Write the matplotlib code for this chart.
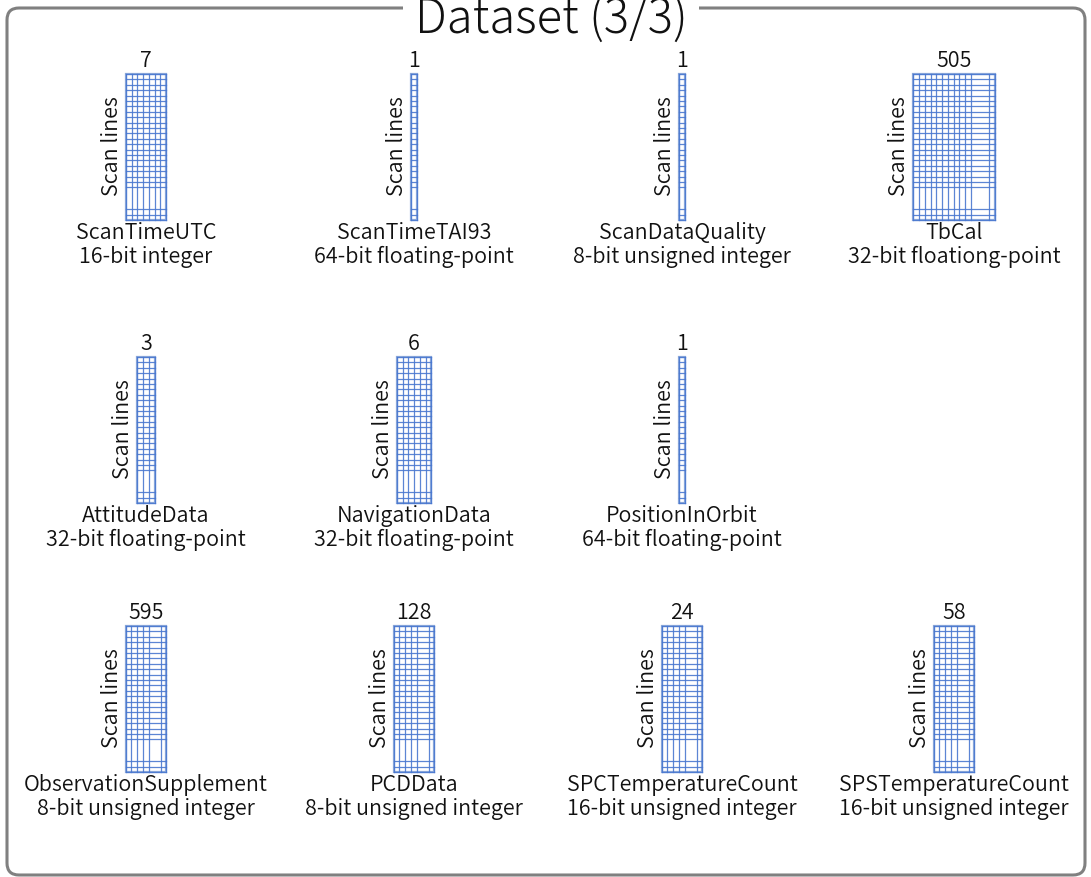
import matplotlib.pyplot as plt
from matplotlib.patches import FancyBboxPatch, Rectangle

plt.rcParams['font.family'] = ['Noto Sans CJK JP', 'DejaVu Sans']
plt.rcParams['font.weight'] = 350

# dataset variables
names = ["ScanTimeUTC", "ScanTimeTAI93", "ScanDataQuality", "TbCal",
         "AttitudeData", "NavigationData", "PositionInOrbit",
         "ObservationSupplement", "PCDData", "SPCTemperatureCount", "SPSTemperatureCount"]
types = ["16-bit integer", "64-bit floating-point", "8-bit unsigned integer", "32-bit floationg-point",
         "32-bit floating-point", "32-bit floating-point", "64-bit floating-point",
         "8-bit unsigned integer", "8-bit unsigned integer", "16-bit unsigned integer",
         "16-bit unsigned integer"]
counts = [7, 1, 1, 505, 3, 6, 1, 595, 128, 24, 58]
shown_cols = [7, 1, 1, 10, 3, 6, 1, 4, 4, 4, 4]   # columns drawn before the "..." gap
slots = [(0, 0), (0, 1), (0, 2), (0, 3),
         (1, 0), (1, 1), (1, 2),
         (2, 0), (2, 1), (2, 2), (2, 3)]

W, H = 1091, 877
col_x = [146, 414, 682, 954]
row_top = [74, 357, 626]
box_h = 146
cw = 5.75          # cell width
rh = 5.4           # row height
n_rows_top = 21
n_rows_bot = 2
grid_col = "#4a78d0"
fs = 15.5

fig = plt.figure(figsize=(W / 100, H / 100), dpi=100)
ax = fig.add_axes([0, 0, 1, 1])
ax.set_xlim(0, W)
ax.set_ylim(H, 0)
ax.axis("off")

# outer frame
frame = FancyBboxPatch((7, 8), 1078, 867, boxstyle="round,pad=0,rounding_size=12",
                       fc="none", ec="#808080", lw=2.2)
ax.add_patch(frame)
ax.text(551, 33, "Dataset (3/3)", ha="center", va="baseline", fontsize=34,
        fontweight="light", color="#111111", bbox=dict(fc="white", ec="none", pad=8))


def draw_grid(x0, y0, ncol, gap):
    # column edges
    xs = [x0 + i * cw for i in range(ncol + 1)]
    if gap:
        wide = 18 if ncol > 5 else 12
        xs.append(xs[-1] + wide)
        xs.append(xs[-1] + cw)
    # row edges
    ys = [y0 + i * rh for i in range(n_rows_top + 1)]
    y1 = y0 + box_h
    ys += [y1 - i * rh for i in range(n_rows_bot, -1, -1)]
    for x in xs:
        ax.plot([x, x], [y0, y1], color=grid_col, lw=0.9, alpha=0.9)
    for y in ys:
        ax.plot([xs[0], xs[-1]], [y, y], color=grid_col, lw=0.9, alpha=0.9)
    ax.add_patch(Rectangle((xs[0], y0), xs[-1] - xs[0], box_h, fc="none",
                           ec="#8eaadb", lw=1.6))
    return xs[0], xs[-1]


for name, typ, cnt, nc, (r, c) in zip(names, types, counts, shown_cols, slots):
    gap = cnt > nc
    width = nc * cw + ((18 if nc > 5 else 12) + cw if gap else 0)
    cx = col_x[c]
    x0 = cx - width / 2
    y0 = row_top[r]
    left, right = draw_grid(x0, y0, nc, gap)
    ax.text((left + right) / 2, y0 - 2, str(cnt), ha="center", va="bottom",
            fontsize=fs, color="#111111")
    ax.text(left - 14, y0 + box_h / 2 - 1, "Scan lines", rotation=90,
            ha="center", va="center", fontsize=fs, color="#111111")
    ax.text(cx, y0 + box_h + 13, name, ha="center", va="center", fontsize=fs,
            color="#111111")
    ax.text(cx, y0 + box_h + 37, typ, ha="center", va="center", fontsize=fs,
            color="#111111")

fig.savefig("out.png", dpi=100)
